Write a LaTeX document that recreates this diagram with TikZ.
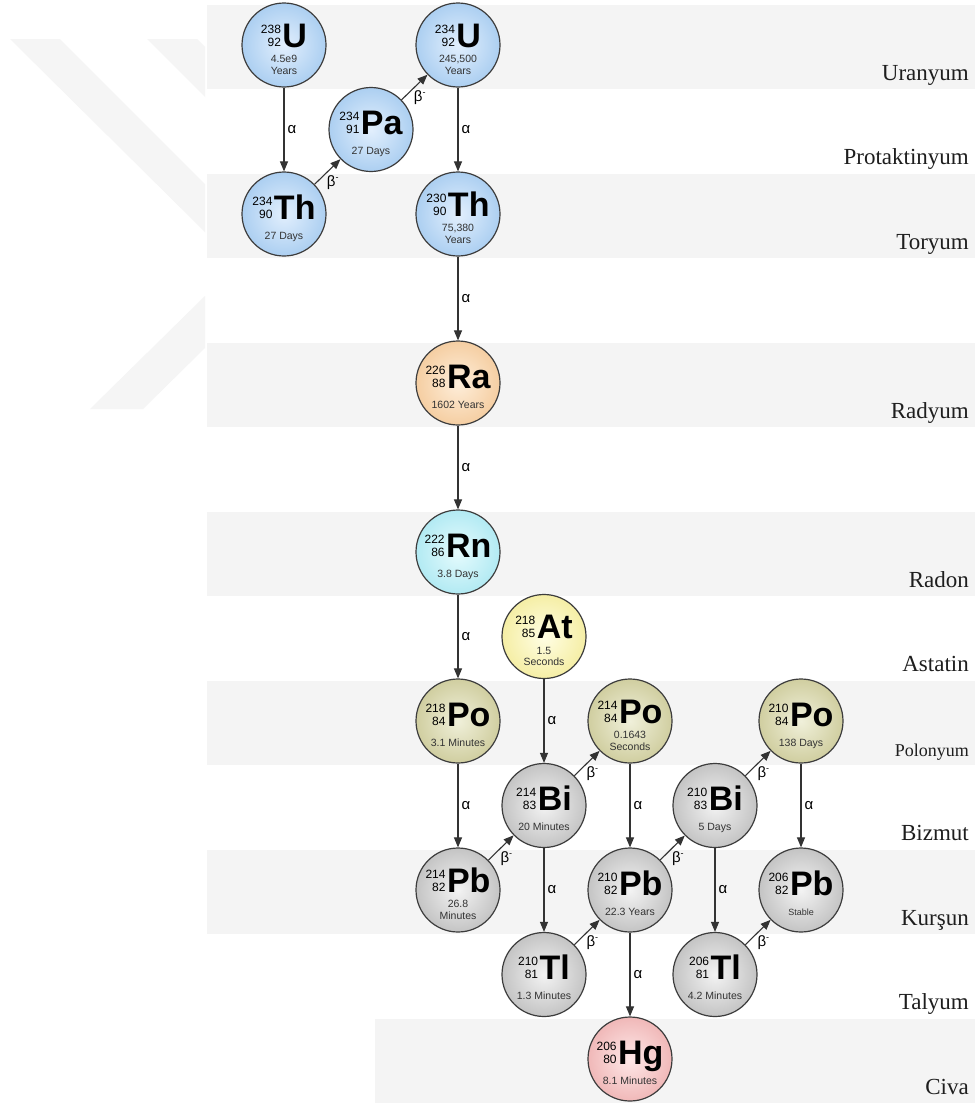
\documentclass[tikz,border=0pt]{standalone}
\usepackage{fontspec}
\setmainfont{Liberation Serif}
\newfontfamily\nsans{Liberation Sans}
\usetikzlibrary{arrows.meta}
\definecolor{bandc}{HTML}{F4F4F4}
\definecolor{wmark}{HTML}{F5F5F5}
\definecolor{ringc}{HTML}{3C3C3C}
\definecolor{linec}{HTML}{333333}
\definecolor{txtc}{HTML}{333333}
\definecolor{labc}{HTML}{1E1E1E}
\tikzset{
  nuc/.style={circle, draw=ringc, line width=1.2pt, minimum size=84pt, inner sep=0pt},
  blueN/.style={inner color={rgb,255:red,226;green,239;blue,253}, outer color={rgb,255:red,172;green,207;blue,241}},
  orangeN/.style={inner color={rgb,255:red,254;green,238;blue,218}, outer color={rgb,255:red,245;green,206;blue,162}},
  cyanN/.style={inner color={rgb,255:red,230;green,251;blue,253}, outer color={rgb,255:red,178;green,234;blue,243}},
  yellowN/.style={inner color={rgb,255:red,255;green,254;blue,228}, outer color={rgb,255:red,245;green,238;blue,165}},
  oliveN/.style={inner color={rgb,255:red,240;green,240;blue,218}, outer color={rgb,255:red,208;green,206;blue,160}},
  grayN/.style={inner color={rgb,255:red,243;green,243;blue,243}, outer color={rgb,255:red,196;green,196;blue,196}},
  pinkN/.style={inner color={rgb,255:red,254;green,232;blue,232}, outer color={rgb,255:red,240;green,184;blue,184}},
  symtxt/.style={anchor=base, inner sep=0pt, text=black},
  hltxt/.style={anchor=base, inner sep=0pt, text=txtc, font=\nsans\fontsize{10.5}{11}\selectfont},
  arr/.style={draw=linec, line width=1.1pt, -{Triangle[length=10pt,width=8pt]}},
  alab/.style={midway, right, inner sep=3pt, font=\nsans\fontsize{15}{15}\selectfont, text=black},
  blab/.style={pos=0.42, below right, inner sep=1pt, font=\nsans\fontsize{15}{15}\selectfont, text=black},
  rowlab/.style={anchor=base east, inner sep=0pt, text=labc, font=\fontsize{23}{23}\selectfont},
}
\newcommand\numst[2]{\raisebox{1pt}{\nsans\fontsize{12}{13}\selectfont\begin{tabular}[b]{@{}r@{}}#1\\#2\end{tabular}}}
\newcommand\bminus{\raisebox{6pt}{\fontsize{9}{9}\selectfont -}}
\newcommand\nuc[9]{%
  \node[nuc, #4] (#1) at (#2,#3) {};
  \if\relax\detokenize{#9}\relax
    \node[symtxt] (#1s) at ([yshift=-5pt]#1.center) {\numst{#5}{#6}\kern1.5pt{\nsans\bfseries\fontsize{34}{34}\selectfont #7}};
    \node[hltxt] (#1h) at ([yshift=-25pt]#1.center) {#8};
  \else
    \node[symtxt] (#1s) at ([yshift=-2pt]#1.center) {\numst{#5}{#6}\kern1.5pt{\nsans\bfseries\fontsize{34}{34}\selectfont #7}};
    \node[hltxt] (#1h) at ([yshift=-17.5pt]#1.center) {#8};
    \node[hltxt] (#1i) at ([yshift=-29pt]#1.center) {#9};
  \fi
}
\begin{document}
\begin{tikzpicture}[x=1pt,y=-1pt]
\useasboundingbox (0,0) rectangle (975,1103);
\fill[white] (0,0) rectangle (975,1103);
% watermark
\fill[wmark] (10,39) -- (60,39) -- (205,184) -- (205,232) -- cycle;
\fill[wmark] (147,39) -- (197,39) -- (205,47) -- (205,97) -- cycle;
\fill[wmark] (90,409) -- (143,409) -- (205,348) -- (205,296) -- cycle;
% bands
\foreach \k in {0,2,4,6,8,10} {
  \fill[bandc] (207,{5+84.5*\k}) rectangle (975,{89+84.5*\k});
}
\fill[bandc] (375,{5+84.5*12}) rectangle (975,1103);
% row labels
\node[rowlab] (l0) at (969,80) {Uranyum};
\node[rowlab] (l1) at (969,164.5) {Protaktinyum};
\node[rowlab] (l2) at (969,249) {Toryum};
\node[rowlab] (l4) at (969,418) {Radyum};
\node[rowlab] (l6) at (969,587) {Radon};
\node[rowlab] (l7) at (969,671.5) {Astatin};
\node[rowlab, font=\fontsize{18}{18}\selectfont] (l8) at (969,756) {Polonyum};
\node[rowlab] (l9) at (969,840.5) {Bizmut};
\node[rowlab] (l10) at (969,925) {Kurşun};
\node[rowlab] (l11) at (969,1009.5) {Talyum};
\node[rowlab] (l12) at (969,1094) {Civa};
% nuclides
\nuc{u238}{284}{45}{blueN}{238}{92}{U}{4.5e9}{Years}
\nuc{pa234}{371}{129.5}{blueN}{234}{91}{Pa}{27 Days}{}
\nuc{u234}{458}{45}{blueN}{234}{92}{U}{245,500}{Years}
\nuc{th234}{284}{214}{blueN}{234}{90}{Th}{27 Days}{}
\nuc{th230}{458}{214}{blueN}{230}{90}{Th}{75,380}{Years}
\nuc{ra226}{458}{383}{orangeN}{226}{88}{Ra}{1602 Years}{}
\nuc{rn222}{458}{552}{cyanN}{222}{86}{Rn}{3.8 Days}{}
\nuc{at218}{544}{636.5}{yellowN}{218}{85}{At}{1.5}{Seconds}
\nuc{po218}{458}{721}{oliveN}{218}{84}{Po}{3.1 Minutes}{}
\nuc{po214}{630}{721}{oliveN}{214}{84}{Po}{0.1643}{Seconds}
\nuc{po210}{801}{721}{oliveN}{210}{84}{Po}{138 Days}{}
\nuc{bi214}{544}{805.5}{grayN}{214}{83}{Bi}{20 Minutes}{}
\nuc{bi210}{715}{805.5}{grayN}{210}{83}{Bi}{5 Days}{}
\nuc{pb214}{458}{890}{grayN}{214}{82}{Pb}{26.8}{Minutes}
\nuc{pb210}{630}{890}{grayN}{210}{82}{Pb}{22.3 Years}{}
\nuc{pb206}{801}{890}{grayN}{206}{82}{Pb}{\fontsize{9}{9}\selectfont Stable}{}
\nuc{tl210}{544}{974.5}{grayN}{210}{81}{Tl}{1.3 Minutes}{}
\nuc{tl206}{715}{974.5}{grayN}{206}{81}{Tl}{4.2 Minutes}{}
\nuc{hg206}{630}{1059}{pinkN}{206}{80}{Hg}{8.1 Minutes}{}
% alpha decays
\draw[arr] (u238) -- node[alab] (a1) {α} (th234);
\draw[arr] (u234) -- node[alab] (a2) {α} (th230);
\draw[arr] (th230) -- node[alab] (a3) {α} (ra226);
\draw[arr] (ra226) -- node[alab] (a4) {α} (rn222);
\draw[arr] (rn222) -- node[alab] (a5) {α} (po218);
\draw[arr] (po218) -- node[alab] (a6) {α} (pb214);
\draw[arr] (at218) -- node[alab] (a7) {α} (bi214);
\draw[arr] (po214) -- node[alab] (a8) {α} (pb210);
\draw[arr] (bi214) -- node[alab] (a9) {α} (tl210);
\draw[arr] (pb210) -- node[alab] (a10) {α} (hg206);
\draw[arr] (po210) -- node[alab] (a11) {α} (pb206);
\draw[arr] (bi210) -- node[alab] (a12) {α} (tl206);
% beta decays
\draw[arr] (th234) -- node[blab] (b1) {β\bminus} (pa234);
\draw[arr] (pa234) -- node[blab] (b2) {β\bminus} (u234);
\draw[arr] (pb214) -- node[blab] (b3) {β\bminus} (bi214);
\draw[arr] (bi214) -- node[blab] (b4) {β\bminus} (po214);
\draw[arr] (tl210) -- node[blab] (b5) {β\bminus} (pb210);
\draw[arr] (pb210) -- node[blab] (b6) {β\bminus} (bi210);
\draw[arr] (bi210) -- node[blab] (b7) {β\bminus} (po210);
\draw[arr] (tl206) -- node[blab] (b8) {β\bminus} (pb206);
\end{tikzpicture}
\end{document}
